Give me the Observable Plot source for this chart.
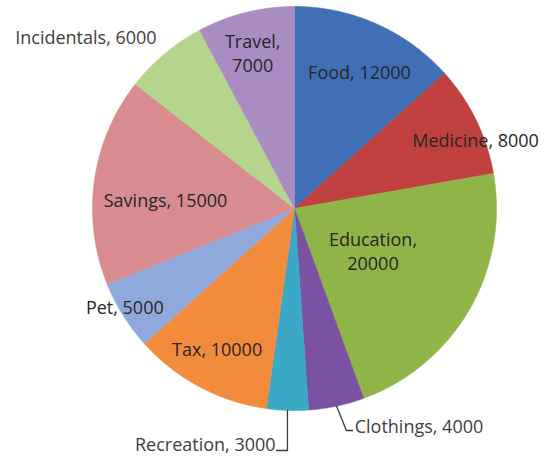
<!DOCTYPE html>
<html><head><meta charset="utf-8">
<script src="https://cdn.jsdelivr.net/npm/d3@7"></script>
<script src="https://cdn.jsdelivr.net/npm/@observablehq/plot@0.6"></script>
<style>body{margin:0;background:#fff;overflow:hidden}</style>
</head><body><div id="chart"></div>
<script>
// ---- data ----
const categories = ["Food","Medicine","Education","Clothings","Recreation","Tax","Pet","Savings","Incidentals","Travel"];
const values = [12000, 8000, 20000, 4000, 3000, 10000, 5000, 15000, 6000, 7000];
const labels = ["Food, 12000","Medicine, 8000","Education,\n20000","Clothings, 4000","Recreation, 3000","Tax, 10000","Pet, 5000","Savings, 15000","Incidentals, 6000","Travel,\n7000"];
const sliceColors = ["#416fb6","#c0403f","#8fb548","#7b52a2","#3ba8c6","#f28b3c","#8fa9dd","#d98c8f","#b6d58c","#a98cc1"];

// ---- layout (not data): pie centre/radius in px, label polar placement in radius units ----
const W = 548, H = 459, CX = 294, CY = 208, R = 202;
const labelLayout = {
  Food:{rho:0.75,theta:25.4,anchor:"middle",inside:true},
  Medicine:{rho:0.96,theta:69,anchor:"middle",inside:true},
  Education:{rho:0.44,theta:118,anchor:"middle",inside:true},
  Clothings:{rho:1.115,theta:164.5,anchor:"start",inside:false},
  Recreation:{rho:1.167,theta:184.6,anchor:"end",inside:false},
  Tax:{rho:0.79,theta:209,anchor:"middle",inside:true},
  Pet:{rho:0.97,theta:240,anchor:"middle",inside:true},
  Savings:{rho:0.64,theta:274,anchor:"middle",inside:true},
  Incidentals:{rho:1.34,theta:309.6,anchor:"middle",inside:false},
  Travel:{rho:0.8,theta:345,anchor:"middle",inside:true}
};
// leader elbows in radius units relative to the slice's outer-edge point
const leaderLayout = {
  Clothings:{elbowDx:0.049, elbowY:1.099, endDx:0.079},
  Recreation:{elbowDx:0, elbowY:1.198, endDx:-0.055}
};

const total = d3.sum(values);
const rad = d => d * Math.PI / 180;
const polar = (rho, deg) => ({u: rho * Math.sin(rad(deg)), v: -rho * Math.cos(rad(deg))});

let acc = 0;
const slices = categories.map((c, i) => {
  const a0 = acc / total * 360; acc += values[i];
  const a1 = acc / total * 360;
  return {cat: c, a0, a1, mid: (a0 + a1) / 2, label: labels[i]};
});

const poly = [];
for (const s of slices) {
  poly.push({cat: s.cat, u: 0, v: 0});
  const n = Math.max(2, Math.ceil((s.a1 - s.a0) / 0.5));
  for (let k = 0; k <= n; k++) {
    const p = polar(1, s.a0 + (s.a1 - s.a0) * k / n);
    poly.push({cat: s.cat, ...p});
  }
  poly.push({cat: s.cat, u: 0, v: 0});
}

const labelRows = slices.map(s => {
  const L = labelLayout[s.cat];
  return {cat: s.cat, text: s.label, anchor: L.anchor, inside: L.inside, ...polar(L.rho, L.theta)};
});

const leaders = [];
for (const s of slices) {
  const L = leaderLayout[s.cat];
  if (!L) continue;
  const e = polar(1, s.mid);
  leaders.push({cat: s.cat, u: e.u, v: e.v});
  leaders.push({cat: s.cat, u: e.u + L.elbowDx, v: L.elbowY});
  leaders.push({cat: s.cat, u: e.u + L.endDx, v: L.elbowY});
}

const font = "'Open Sans', Lato, sans-serif";
const fs = 18;
const txt = (filter, anchor, fill) => Plot.text(labelRows.filter(filter), {
  x: "u", y: "v", text: "text", textAnchor: anchor, fill, fontSize: fs, lineHeight: 1.32, fontFamily: font
});

const chart = Plot.plot({
  width: W, height: H, margin: 0,
  x: {domain: [-CX / R, (W - CX) / R], range: [0, W], axis: null},
  y: {domain: [-CY / R, (H - CY) / R], range: [0, H], axis: null},
  color: {domain: categories, range: sliceColors},
  style: {background: "#fff", fontFamily: font},
  marks: [
    Plot.line(poly, {x: "u", y: "v", z: "cat", fill: "cat", stroke: "cat", strokeWidth: 0.6, curve: "linear"}),
    Plot.line(leaders, {x: "u", y: "v", z: "cat", stroke: "#3a3a3a", strokeWidth: 1.3, curve: "linear"}),
    txt(d => d.inside && d.anchor === "middle", "middle", "#262626"),
    txt(d => !d.inside && d.anchor === "middle", "middle", "#404040"),
    txt(d => !d.inside && d.anchor === "start", "start", "#404040"),
    txt(d => !d.inside && d.anchor === "end", "end", "#404040")
  ]
});
document.getElementById("chart").appendChild(chart);
</script>
</body></html>
